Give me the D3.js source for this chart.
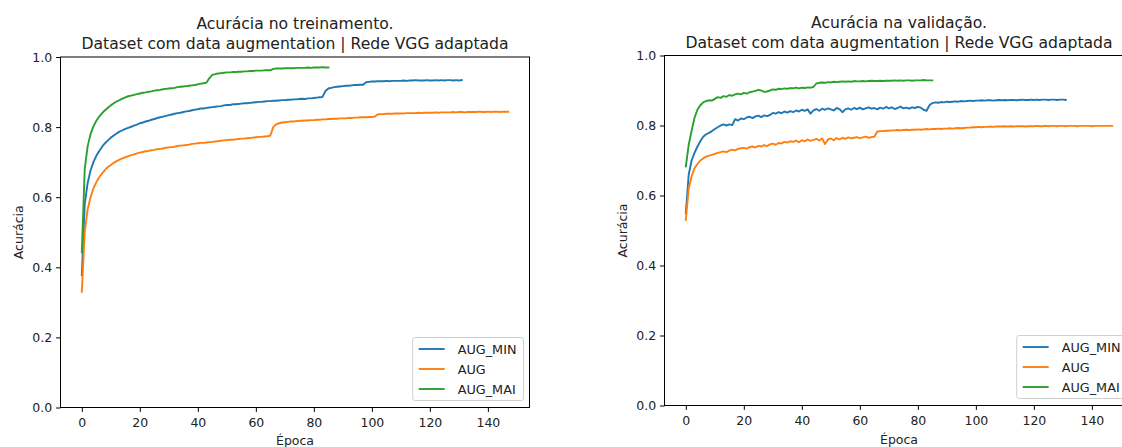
<!DOCTYPE html>
<html>
<head>
<meta charset="utf-8">
<script src="https://cdn.jsdelivr.net/npm/d3@7"></script>
<style>
  html, body { margin: 0; padding: 0; background: #fff; }
  svg { display: block; font-family: "DejaVu Sans", sans-serif; }
</style>
</head>
<body>
<svg id="chart" width="1122" height="447"></svg>
<script>
// ---------------- DATA ----------------
const seriesNames = ["AUG_MIN", "AUG", "AUG_MAI"];
const xTicks = [0, 20, 40, 60, 80, 100, 120, 140];
const yTicks = [0.0, 0.2, 0.4, 0.6, 0.8, 1.0];
const titlesTrain = ["Acurácia no treinamento.", "Dataset com data augmentation | Rede VGG adaptada"];
const titlesVal = ["Acurácia na validação.", "Dataset com data augmentation | Rede VGG adaptada"];
const xLabel = "Época";
const yLabel = "Acurácia";

// Training accuracy
const trainMin = [
 0.378, 0.580, 0.640, 0.676, 0.700, 0.718, 0.732, 0.744, 0.754, 0.762,
 0.770, 0.776, 0.782, 0.787, 0.791, 0.795, 0.798, 0.801, 0.804, 0.807,
 0.811, 0.813, 0.816, 0.818, 0.821, 0.823, 0.826, 0.828, 0.830, 0.832,
 0.834, 0.836, 0.838, 0.840, 0.841, 0.843, 0.845, 0.846, 0.848, 0.850,
 0.851, 0.853, 0.853, 0.855, 0.856, 0.857, 0.858, 0.859, 0.860, 0.862,
 0.863, 0.863, 0.865, 0.865, 0.866, 0.867, 0.868, 0.868, 0.869, 0.870,
 0.871, 0.872, 0.872, 0.873, 0.874, 0.874, 0.875, 0.875, 0.876, 0.877,
 0.877, 0.878, 0.878, 0.879, 0.879, 0.880, 0.881, 0.880, 0.882, 0.882,
 0.883, 0.884, 0.885, 0.886, 0.903, 0.910, 0.912, 0.914, 0.915, 0.916,
 0.917, 0.918, 0.918, 0.919, 0.920, 0.920, 0.921, 0.921, 0.928, 0.929,
 0.930, 0.930, 0.931, 0.931, 0.931, 0.932, 0.931, 0.932, 0.932, 0.932,
 0.932, 0.933, 0.932, 0.933, 0.933, 0.934, 0.933, 0.933, 0.933, 0.934,
 0.933, 0.933, 0.934, 0.933, 0.934, 0.933, 0.934, 0.934, 0.933, 0.934,
 0.933, 0.934
];
const trainAug = [
 0.330, 0.500, 0.565, 0.600, 0.625, 0.643, 0.657, 0.668, 0.678, 0.686,
 0.692, 0.698, 0.703, 0.707, 0.711, 0.714, 0.717, 0.720, 0.722, 0.725,
 0.727, 0.729, 0.731, 0.732, 0.734, 0.735, 0.737, 0.738, 0.739, 0.741,
 0.742, 0.743, 0.744, 0.746, 0.747, 0.748, 0.749, 0.750, 0.752, 0.753,
 0.754, 0.755, 0.755, 0.756, 0.757, 0.758, 0.759, 0.760, 0.761, 0.762,
 0.763, 0.764, 0.764, 0.765, 0.766, 0.767, 0.767, 0.768, 0.769, 0.770,
 0.771, 0.772, 0.772, 0.773, 0.774, 0.776, 0.800, 0.808, 0.811, 0.813,
 0.814, 0.815, 0.816, 0.816, 0.817, 0.818, 0.818, 0.819, 0.819, 0.820,
 0.820, 0.821, 0.821, 0.822, 0.822, 0.823, 0.823, 0.824, 0.824, 0.825,
 0.825, 0.825, 0.826, 0.826, 0.827, 0.827, 0.828, 0.828, 0.828, 0.829,
 0.829, 0.830, 0.836, 0.837, 0.837, 0.838, 0.838, 0.838, 0.839, 0.839,
 0.839, 0.839, 0.840, 0.840, 0.840, 0.840, 0.841, 0.840, 0.841, 0.841,
 0.841, 0.841, 0.842, 0.841, 0.842, 0.842, 0.842, 0.842, 0.843, 0.842,
 0.843, 0.843, 0.842, 0.843, 0.843, 0.843, 0.843, 0.844, 0.843, 0.843,
 0.844, 0.843, 0.844, 0.844, 0.843, 0.844, 0.844, 0.844
];
const trainMai = [
 0.443, 0.680, 0.745, 0.780, 0.802, 0.818, 0.830, 0.840, 0.848, 0.855,
 0.862, 0.868, 0.873, 0.877, 0.881, 0.885, 0.888, 0.890, 0.892, 0.894,
 0.896, 0.898, 0.899, 0.901, 0.902, 0.904, 0.905, 0.906, 0.908, 0.909,
 0.910, 0.911, 0.912, 0.914, 0.915, 0.916, 0.917, 0.918, 0.919, 0.920,
 0.922, 0.924, 0.925, 0.927, 0.940, 0.949, 0.951, 0.953, 0.954, 0.955,
 0.956, 0.956, 0.957, 0.957, 0.958, 0.958, 0.959, 0.959, 0.960, 0.960,
 0.961, 0.961, 0.961, 0.962, 0.962, 0.962, 0.966, 0.967, 0.967, 0.967,
 0.968, 0.968, 0.968, 0.968, 0.969, 0.969, 0.969, 0.969, 0.970, 0.969,
 0.970, 0.970, 0.970, 0.971, 0.970, 0.970
];

// Validation accuracy
const valMin = [
 0.550, 0.660, 0.700, 0.722, 0.740, 0.755, 0.768, 0.775, 0.779, 0.784,
 0.790, 0.795, 0.800, 0.803, 0.800, 0.803, 0.801, 0.818, 0.814, 0.820,
 0.818, 0.823, 0.825, 0.821, 0.826, 0.828, 0.824, 0.829, 0.827, 0.830,
 0.836, 0.834, 0.838, 0.835, 0.840, 0.837, 0.841, 0.838, 0.843, 0.840,
 0.845, 0.842, 0.846, 0.834, 0.843, 0.847, 0.842, 0.848, 0.845, 0.849,
 0.846, 0.843, 0.850, 0.847, 0.838, 0.846, 0.849, 0.845, 0.850, 0.847,
 0.851, 0.846, 0.849, 0.852, 0.848, 0.850, 0.846, 0.851, 0.848, 0.853,
 0.849, 0.852, 0.847, 0.850, 0.854, 0.849, 0.851, 0.848, 0.852, 0.850,
 0.853, 0.851, 0.845, 0.842, 0.858, 0.864, 0.866, 0.865, 0.867, 0.866,
 0.868, 0.867, 0.868, 0.869, 0.868, 0.870, 0.869, 0.870, 0.871, 0.870,
 0.871, 0.871, 0.872, 0.871, 0.872, 0.872, 0.871, 0.872, 0.873, 0.872,
 0.873, 0.872, 0.873, 0.873, 0.872, 0.873, 0.874, 0.873, 0.873, 0.874,
 0.873, 0.874, 0.873, 0.874, 0.874, 0.873, 0.874, 0.874, 0.873, 0.874,
 0.874, 0.873
];
const valAug = [
 0.530, 0.620, 0.655, 0.678, 0.690, 0.700, 0.706, 0.711, 0.714, 0.716,
 0.719, 0.722, 0.724, 0.726, 0.724, 0.728, 0.731, 0.729, 0.733, 0.735,
 0.736, 0.734, 0.738, 0.740, 0.737, 0.742, 0.740, 0.744, 0.741, 0.746,
 0.748, 0.745, 0.750, 0.749, 0.753, 0.751, 0.755, 0.753, 0.757, 0.752,
 0.758, 0.755, 0.760, 0.756, 0.759, 0.762, 0.757, 0.763, 0.747, 0.760,
 0.763, 0.758, 0.764, 0.760, 0.765, 0.762, 0.766, 0.763, 0.765, 0.767,
 0.764, 0.766, 0.768, 0.765, 0.767, 0.768, 0.783, 0.784, 0.784, 0.785,
 0.785, 0.786, 0.786, 0.787, 0.786, 0.787, 0.788, 0.787, 0.788, 0.788,
 0.789, 0.788, 0.789, 0.790, 0.789, 0.790, 0.790, 0.791, 0.790, 0.791,
 0.791, 0.792, 0.791, 0.792, 0.793, 0.792, 0.793, 0.794, 0.794, 0.795,
 0.795, 0.796, 0.795, 0.796, 0.796, 0.797, 0.796, 0.797, 0.797, 0.797,
 0.798, 0.797, 0.798, 0.797, 0.798, 0.798, 0.798, 0.797, 0.798, 0.798,
 0.798, 0.799, 0.798, 0.798, 0.799, 0.798, 0.799, 0.799, 0.798, 0.799,
 0.799, 0.798, 0.799, 0.799, 0.799, 0.798, 0.799, 0.799, 0.799, 0.799,
 0.798, 0.799, 0.799, 0.799, 0.799, 0.799, 0.799, 0.799
];
const valMai = [
 0.683, 0.745, 0.785, 0.822, 0.845, 0.858, 0.866, 0.870, 0.872, 0.871,
 0.876, 0.881, 0.879, 0.884, 0.882, 0.887, 0.885, 0.889, 0.891, 0.889,
 0.893, 0.891, 0.895, 0.897, 0.899, 0.902, 0.900, 0.896, 0.897, 0.900,
 0.903, 0.902, 0.905, 0.904, 0.906, 0.905, 0.907, 0.906, 0.908, 0.906,
 0.908, 0.907, 0.909, 0.908, 0.910, 0.920, 0.922, 0.923, 0.922, 0.924,
 0.923, 0.925, 0.924, 0.925, 0.926, 0.925, 0.926, 0.925, 0.927, 0.926,
 0.926, 0.927, 0.926, 0.927, 0.928, 0.927, 0.927, 0.928, 0.927, 0.928,
 0.928, 0.928, 0.929, 0.928, 0.929, 0.928, 0.929, 0.929, 0.928, 0.929,
 0.929, 0.929, 0.930, 0.929, 0.929, 0.929
];

const colors = ["#1f77b4", "#ff7f0e", "#2ca02c"];

// ---------------- DRAW ----------------
const svg = d3.select("#chart");
svg.append("rect").attr("width", 1122).attr("height", 447).attr("fill", "#fff");

const TEXT = "#222";
const FS = 12.5;
const LFS = 12.8;

function panel(cfg) {
  const { x0, x1, yTop, yBot, series, titles, titleBase, xLabelBase, yLabelX } = cfg;
  const x = d3.scaleLinear().domain([-7.35, 154.35]).range([x0, x1]);
  const y = d3.scaleLinear().domain([0, 1]).range([yBot, yTop]);
  const g = svg.append("g");

  // lines
  const line = d3.line().x((d, i) => x(i)).y(d => y(d));
  series.forEach((s, k) => {
    g.append("path").datum(s)
      .attr("fill", "none").attr("stroke", colors[k])
      .attr("stroke-width", 1.9).attr("stroke-linejoin", "round").attr("stroke-linecap", "square")
      .attr("d", line);
  });

  // axes
  const xAxis = d3.axisBottom(x).tickValues(xTicks).tickSize(4.4).tickPadding(3.5).tickFormat(d3.format("d"));
  const yAxis = d3.axisLeft(y).tickValues(yTicks).tickSize(4.4).tickPadding(4).tickFormat(d3.format(".1f"));
  const gx = g.append("g").attr("transform", `translate(0,${yBot})`).call(xAxis);
  const gy = g.append("g").attr("transform", `translate(${x0},0)`).call(yAxis);
  [gx, gy].forEach(a => {
    a.select(".domain").remove();
    a.selectAll(".tick line").attr("stroke", "#000").attr("stroke-width", 1);
    a.selectAll(".tick text").attr("fill", TEXT).attr("font-size", FS)
      .attr("font-family", "DejaVu Sans");
  });
  gx.selectAll(".tick text").attr("dy", null).attr("y", 19.3);
  gy.selectAll(".tick text").attr("dy", "0.34em");

  // spines
  g.append("rect").attr("x", x0).attr("y", yTop).attr("width", x1 - x0).attr("height", yBot - yTop)
    .attr("fill", "none").attr("stroke", "#000").attr("stroke-width", 1);

  // titles
  const cx = (x0 + x1) / 2;
  titles.forEach((t, i) => {
    g.append("text").attr("x", cx).attr("y", titleBase[i]).attr("text-anchor", "middle")
      .attr("font-size", 15.6).attr("fill", TEXT).text(t);
  });
  // axis labels
  g.append("text").attr("x", cx).attr("y", xLabelBase).attr("text-anchor", "middle")
    .attr("font-size", FS).attr("fill", TEXT).text(xLabel);
  g.append("text").attr("transform", `translate(${yLabelX},${(yTop + yBot) / 2}) rotate(-90)`)
    .attr("text-anchor", "middle").attr("font-size", FS).attr("fill", TEXT).text(yLabel);

  // legend (lower right)
  const lg = g.append("g");
  const padL = 6, handle = 26, textPad = 13, padR = 7, rowH = 20;
  const texts = seriesNames.map(n => lg.append("text").attr("font-size", LFS).attr("fill", TEXT).text(n));
  const tw = d3.max(texts, t => t.node().getComputedTextLength());
  const w = padL + handle + textPad + tw + padR;
  const h = 63;
  const right = x1 - 6, bottom = yBot - 7;
  const left = right - w, top = bottom - h;
  lg.insert("rect", ":first-child").attr("x", left).attr("y", top).attr("width", w).attr("height", h)
    .attr("rx", 2.5).attr("fill", "#fff").attr("fill-opacity", 0.8)
    .attr("stroke", "#d0d0d0").attr("stroke-width", 1);
  seriesNames.forEach((n, k) => {
    const cy = top + 11.5 + k * rowH;
    lg.append("line").attr("x1", left + padL).attr("x2", left + padL + handle)
      .attr("y1", cy).attr("y2", cy).attr("stroke", colors[k]).attr("stroke-width", 1.9);
    texts[k].attr("x", left + padL + handle + textPad).attr("y", cy).attr("dy", "0.36em");
  });
}

panel({
  x0: 60.5, x1: 529.5, yTop: 57, yBot: 407.5,
  series: [trainMin, trainAug, trainMai],
  titles: titlesTrain, titleBase: [29.3, 48.5], xLabelBase: 445, yLabelX: 23
});
panel({
  x0: 664.5, x1: 1133.5, yTop: 55.5, yBot: 405.5,
  series: [valMin, valAug, valMai],
  titles: titlesVal, titleBase: [28.3, 47.8], xLabelBase: 443.5, yLabelX: 627
});
</script>
</body>
</html>
